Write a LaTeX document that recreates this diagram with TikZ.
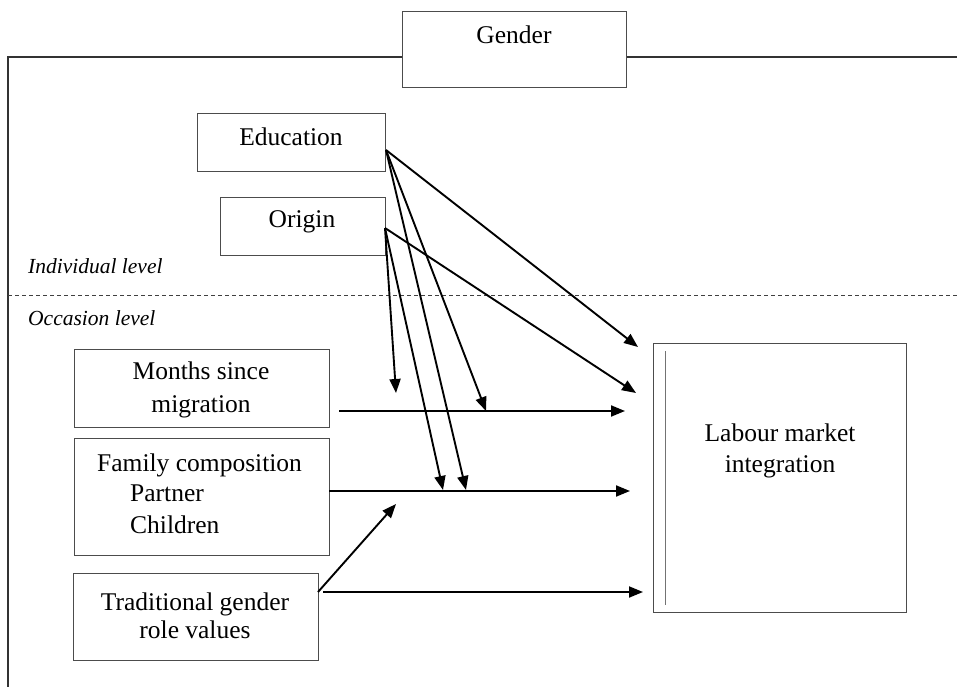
\documentclass[tikz,border=0pt]{standalone}
\usepackage{fontspec}
\setmainfont{Liberation Serif}
\usetikzlibrary{arrows.meta}
\begin{document}
\begin{tikzpicture}[x=1pt,y=-1pt,
  box/.style={draw=black!70, line width=0.9pt, inner sep=0pt, outer sep=0pt},
  txt/.style={font=\fontsize{25.5}{31}\selectfont, inner sep=0pt, align=center},
  lvl/.style={font=\fontsize{21.5}{26}\selectfont\itshape, inner sep=0pt, anchor=west},
  arr/.style={line width=1.9pt, black, -{Triangle[length=14pt,width=11pt]}},
  frame/.style={line width=1.6pt, black!80}]
\useasboundingbox (0,0) rectangle (957,687);

% frame
\draw[frame] (626,57) -- (957,57);
\draw[frame] (402,57) -- (8,57) -- (8,687);
% dashed level divider
\draw[black!75, line width=0.7pt, dash pattern=on 4pt off 3pt] (8,295) -- (957,295);

% boxes
\node[box, fill=white, minimum width=224pt, minimum height=76pt] (gender) at (514,49) {};
\node[txt] (gendertxt) at (514,35) {Gender};

\node[box, minimum width=188pt, minimum height=58pt] (edu) at (291,142) {};
\node[txt] (edutxt) at (291,137) {Education};

\node[box, minimum width=165pt, minimum height=58pt] (ori) at (302.5,226) {};
\node[txt] (oritxt) at (302,222) {Origin};

\node[box, minimum width=255pt, minimum height=78pt] (mon) at (201.5,388) {};
\node[txt] (montxt) at (201,390) {Months since\\[2pt]migration};

\node[box, minimum width=255pt, minimum height=117pt] (fam) at (201.5,496.5) {};
\node[txt, align=left, anchor=west] (famtxt) at (97,494) {Family composition\\[-1pt]\hspace*{33pt}Partner\\[1pt]\hspace*{33pt}Children};

\node[box, minimum width=245pt, minimum height=87pt] (trad) at (195.5,616.5) {};
\node[txt] (tradtxt) at (195,616) {Traditional gender\\[-3pt]role values};

\node[box, minimum width=253pt, minimum height=269pt] (lmi) at (779.5,477.5) {};
\node[txt] (lmitxt) at (780,451) {Labour market\\integration};
\draw[black!55, line width=0.7pt] (665,351) -- (665,605);

% levels
\node[lvl] (indiv) at (28,266) {Individual level};
\node[lvl] (occ) at (28,318) {Occasion level};

% connector points
\coordinate (eduOut) at (386,150);
\coordinate (oriOut) at (385,228);
\coordinate (lmiA) at (638,347);
\coordinate (lmiB) at (636,393);
\coordinate (monA) at (486,411);
\coordinate (famA) at (443,490);
\coordinate (famB) at (466,490);
\coordinate (midA) at (396,393);
\coordinate (monS) at (339,411);
\coordinate (monE) at (625,411);
\coordinate (famS) at (329,491);
\coordinate (famE) at (630,491);
\coordinate (tradO) at (318,592);
\coordinate (tradS) at (323,592);
\coordinate (tradE) at (643,592);
\coordinate (famMid) at (396,504);

% arrows
\draw[arr] (eduOut) -- (lmiA);
\draw[arr] (eduOut) -- (monA);
\draw[arr] (eduOut) -- (famB);
\draw[arr] (oriOut) -- (midA);
\draw[arr] (oriOut) -- (lmiB);
\draw[arr] (oriOut) -- (famA);
\draw[arr] (monS) -- (monE);
\draw[arr] (famS) -- (famE);
\draw[arr] (tradO) -- (famMid);
\draw[arr] (tradS) -- (tradE);
\end{tikzpicture}
\end{document}
